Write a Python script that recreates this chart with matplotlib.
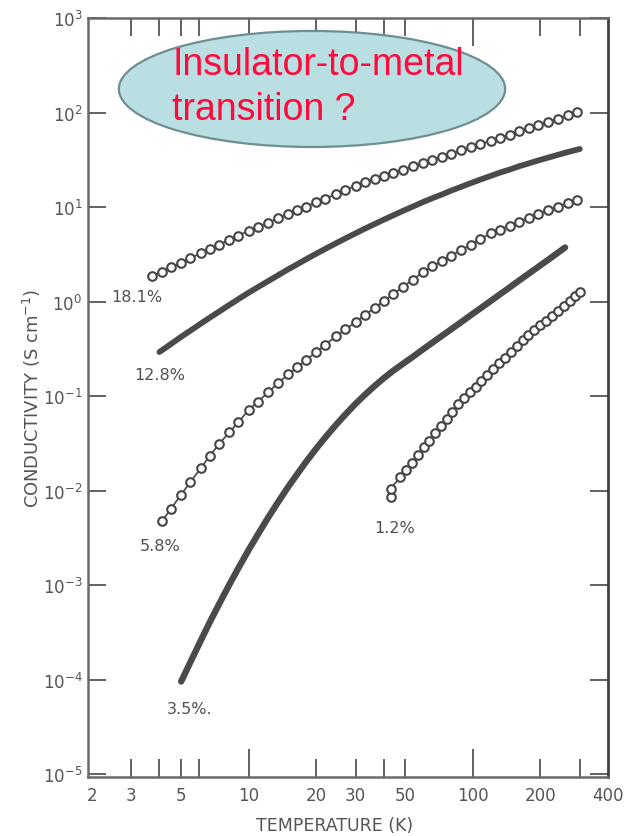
import numpy as np
import matplotlib
matplotlib.use("Agg")
import matplotlib.pyplot as plt
from matplotlib.patches import Ellipse
from matplotlib.ticker import FixedLocator, LogFormatterSciNotation, NullFormatter

# temperatures (K) and conductivities (S/cm)
t_open = [3.7, 4.1, 4.5, 5.0, 5.5, 6.1, 6.7, 7.4, 8.2, 9.0, 10, 11, 12.2, 13.5, 15, 16.5,
          18, 20, 22, 24.5, 27, 30, 33, 36.5, 40, 44, 49, 54, 60, 66, 73, 80, 89, 98,
          108, 120, 132, 146, 161, 178, 196, 217, 240, 265, 292]

t_181 = t_open
s_181 = [1.85, 2.07, 2.30, 2.58, 2.87, 3.23, 3.58, 4.01, 4.50, 4.99, 5.61, 6.17, 6.84,
         7.57, 8.41, 9.25, 10.1, 11.2, 12.3, 13.7, 15.1, 16.8, 18.4, 19.8, 21.3, 23.0,
         24.9, 26.9, 29.2, 31.6, 34.0, 36.6, 39.8, 42.9, 46.2, 50.2, 54.2, 58.5, 63.2,
         68.2, 73.6, 79.8, 86.1, 93.1, 100.5]

t_128 = [4.0, 4.5, 5.0, 5.5, 6.1, 6.7, 7.4, 8.2, 9.0, 10, 11, 12.2, 13.5, 15, 16.5, 18,
         20, 22, 24.5, 27, 30, 33, 36.5, 40, 44, 49, 54, 60, 66, 73, 80, 89, 98, 108,
         120, 132, 146, 161, 178, 196, 217, 240, 265, 300]
s_128 = [0.292, 0.355, 0.423, 0.492, 0.581, 0.674, 0.785, 0.920, 1.06, 1.24, 1.42,
         1.64, 1.89, 2.19, 2.48, 2.79, 3.20, 3.61, 4.13, 4.65, 5.27, 5.90, 6.61, 7.33,
         8.13, 9.14, 10.1, 11.3, 12.4, 13.6, 14.9, 16.4, 17.9, 19.5, 21.3, 23.1, 24.9,
         27.0, 29.0, 31.1, 33.3, 35.7, 38.1, 41.1]

t_58 = t_open[1:]
s_58 = [4.71e-3, 6.40e-3, 9.06e-3, 1.23e-2, 1.71e-2, 2.31e-2, 3.13e-2, 4.13e-2, 5.30e-2,
        7.13e-2, 8.71e-2, 0.109, 0.137, 0.169, 0.202, 0.239, 0.292, 0.350, 0.427, 0.506,
        0.608, 0.721, 0.857, 1.01, 1.19, 1.44, 1.70, 2.05, 2.35, 2.69, 3.05, 3.52, 4.00,
        4.56, 5.26, 5.78, 6.37, 7.01, 7.74, 8.51, 9.31, 10.1, 11.0, 12.0]

t_35 = [5.0, 5.5, 6.1, 6.7, 7.4, 8.2, 9.0, 10, 11, 12.2, 13.5, 15, 16.5, 18, 20, 22,
        24.5, 27, 30, 33, 36.5, 40, 44, 49, 54, 60, 66, 73, 80, 89, 98, 108, 120, 132,
        146, 161, 178, 196, 217, 240, 258]
s_35 = [9.53e-5, 1.53e-4, 2.55e-4, 4.02e-4, 6.35e-4, 1.01e-3, 1.51e-3, 2.35e-3, 3.44e-3,
        5.14e-3, 7.48e-3, 1.09e-2, 1.50e-2, 2.00e-2, 2.77e-2, 3.66e-2, 4.94e-2, 6.37e-2,
        8.28e-2, 0.103, 0.128, 0.154, 0.184, 0.221, 0.260, 0.312, 0.367, 0.435, 0.508,
        0.608, 0.718, 0.845, 1.01, 1.19, 1.41, 1.67, 1.98, 2.33, 2.77, 3.29, 3.73]

t_12 = [43, 43, 47.5, 50.5, 53.5, 57, 60.5, 64, 68, 72, 76.5, 81, 86, 91.5, 97, 103, 109,
        116, 123, 131, 139, 148, 157, 167, 177, 188, 200, 212, 225, 239, 254, 270, 287, 300]
s_12 = [8.51e-3, 1.05e-2, 1.38e-2, 1.66e-2, 1.97e-2, 2.39e-2, 2.86e-2, 3.37e-2, 4.06e-2,
        4.80e-2, 5.78e-2, 6.82e-2, 8.20e-2, 9.53e-2, 0.109, 0.126, 0.145, 0.168, 0.192,
        0.222, 0.255, 0.294, 0.337, 0.389, 0.439, 0.494, 0.560, 0.628, 0.708, 0.798,
        0.904, 1.02, 1.15, 1.26]

labels = ["18.1%", "12.8%", "5.8%", "3.5%.", "1.2%"]
label_t = [3.17, 4.02, 4.02, 5.47, 44.9]
label_s = [1.14, 0.167, 2.65e-3, 4.88e-5, 4.11e-3]

x_ticks = [2, 3, 5, 10, 20, 30, 50, 100, 200, 400]

grey = "#555555"
dark = "#454545"

fig = plt.figure(figsize=(6.24, 8.37), dpi=100)
ax = fig.add_axes([0.141, 0.0705, 0.833, 0.9068])

# open circle series
for t, s in [(t_181, s_181), (t_58, s_58), (t_12, s_12)]:
    ax.plot(t, s, color=dark, lw=1.2, zorder=2)
    ax.plot(t, s, ls="none", marker="o", ms=6.2, mfc="white", mec=dark, mew=1.5, zorder=3)

# filled series (dense points look like a thick band)
ax.plot(t_128, s_128, color="#4a4a4a", lw=4.2, solid_capstyle="round", zorder=3)
ax.plot(t_35, s_35, color="#4a4a4a", lw=4.6, solid_capstyle="round", zorder=3)

for lab, lt, ls in zip(labels, label_t, label_s):
    ax.text(lt, ls, lab, ha="center", va="center", fontsize=11.5, color="#505050")

ax.set_xscale("log")
ax.set_yscale("log")
ax.set_xlim(1.92, 400)
ax.set_ylim(9.3e-6, 1e3)

ax.xaxis.set_major_locator(FixedLocator([10, 100]))
ax.xaxis.set_minor_locator(FixedLocator([3, 4, 5, 6, 20, 30, 40, 50, 200, 300]))
ax.xaxis.set_major_formatter(NullFormatter())
ax.xaxis.set_minor_formatter(NullFormatter())
for xt in x_ticks:
    ax.text(xt, -0.012, str(xt), transform=ax.get_xaxis_transform(), ha="center", va="top",
            fontsize=12, color=grey)

ax.yaxis.set_major_locator(FixedLocator([10.0 ** k for k in range(-5, 4)]))
ax.yaxis.set_minor_locator(FixedLocator([]))
ax.yaxis.set_major_formatter(LogFormatterSciNotation())

ax.tick_params(axis="x", which="major", direction="in", length=20, width=1.3, color=grey,
               top=True, bottom=True)
ax.tick_params(axis="x", which="minor", direction="in", length=13, width=1.3, color=grey,
               top=True, bottom=True)
ax.tick_params(axis="y", which="major", direction="in", length=13, width=1.3, color=grey,
               left=True, right=True, labelsize=12, labelcolor=grey, pad=4)

for side in ["left", "bottom", "top"]:
    ax.spines[side].set_color("#6a6a6a")
    ax.spines[side].set_linewidth(1.8)
ax.spines["right"].set_color("#404040")
ax.spines["right"].set_linewidth(2.0)

ax.set_xlabel("TEMPERATURE (K)", fontsize=12.5, color=grey, labelpad=22)
ax.xaxis.set_label_coords(0.475, -0.052)
ax.set_ylabel("CONDUCTIVITY (S cm$^{-1}$)", fontsize=13, color=grey, labelpad=0)

# callout bubble
bubble = Ellipse((0.5, 0.8925), 0.619, 0.1386, transform=fig.transFigure,
                 facecolor="#b9dfe3", edgecolor="#6f8e90", lw=1.6, zorder=5)
fig.add_artist(bubble)
for txt, yb in [("Insulator-to-metal", 0.9104), ("transition ?", 0.8566)]:
    fig.text(0.276, yb, txt, fontsize=27, family=["Liberation Sans", "DejaVu Sans"],
             color="#ff0a3c", ha="left", va="baseline", zorder=6)

fig.savefig("out.png", dpi=100)
